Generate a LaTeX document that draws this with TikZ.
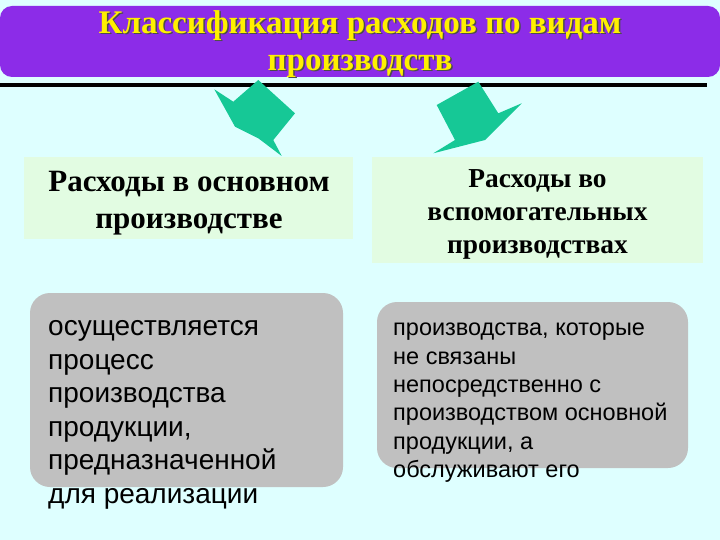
\documentclass[tikz,border=0pt]{standalone}
\usepackage{fontspec}
\setmainfont{Liberation Serif}
\newfontfamily\arialf{Liberation Sans}
\definecolor{bgcyan}{RGB}{222,255,255}
\definecolor{titlepurple}{RGB}{140,44,232}
\definecolor{titleyellow}{RGB}{255,240,0}
\definecolor{arrowgreen}{RGB}{22,200,150}
\definecolor{headgreen}{RGB}{226,252,226}
\definecolor{boxgray}{RGB}{192,192,192}
\tikzset{
  headbox/.style={fill=headgreen, draw=none},
  headtext/.style={inner sep=0pt, align=center},
  graybox/.style={fill=boxgray, draw=none, rounded corners=20pt},
  graytext/.style={inner sep=0pt, align=left, anchor=north west},
  arrowshape/.style={fill=arrowgreen, draw=none},
  titlefont/.style={inner sep=0pt, align=center, font=\bfseries\fontsize{33}{37}\selectfont},
}
\begin{document}
\begin{tikzpicture}[x=1pt,y=-1pt]
\useasboundingbox (0,0) rectangle (720,540);
\fill[bgcyan] (0,0) rectangle (720,540);
% title bar
\fill[titlepurple, rounded corners=12pt] (0,6) rectangle (720,77);
\node[titlefont, text=black!70] (titleshadow) at (361.5,45.5)
  {Классификация расходов по видам\\производств};
\node[titlefont, text=titleyellow] (title) at (360,44)
  {Классификация расходов по видам\\производств};
\fill[black] (0,83) rectangle (707,87);
% arrows
\fill[arrowshape] (214.3,89.3) -- (233.3,101.7) -- (258.3,80) -- (295,113.3) -- (273.3,140)
  -- (281.7,156) -- (258.3,138.3) -- (235,126.7) -- cycle;
\fill[arrowshape] (478.3,81.7) -- (498.3,113.3) -- (521.7,103.3) -- (485,140)
  -- (433.3,153.3) -- (455,140) -- (436.7,105) -- cycle;
% headers
\fill[headbox] (24,157) rectangle (353,239);
\fill[headbox] (372,157) rectangle (703,263);
\node[headtext, font=\bfseries\fontsize{31}{37}\selectfont] (leftHead) at (189,203.6)
  {Расходы в основном\\производстве};
\node[headtext, font=\bfseries\fontsize{27.4}{33}\selectfont] (rightHead) at (537.5,214)
  {Расходы во\\вспомогательных\\производствах};
% gray boxes
\fill[graybox] (30,293) rectangle (343,487);
\fill[graybox] (377,302) rectangle (688,468);
\node[graytext, font=\arialf\fontsize{28}{33.5}\selectfont] (leftText) at (48,320.5)
  {осуществляется\\процесс\\производства\\продукции,\\предназначенной\\для реализации};
\node[graytext, font=\arialf\fontsize{23.5}{28.4}\selectfont] (rightText) at (393,322.8)
  {производства, которые\\не связаны\\непосредственно с\\производством основной\\продукции, а\\обслуживают его};
\end{tikzpicture}
\end{document}
